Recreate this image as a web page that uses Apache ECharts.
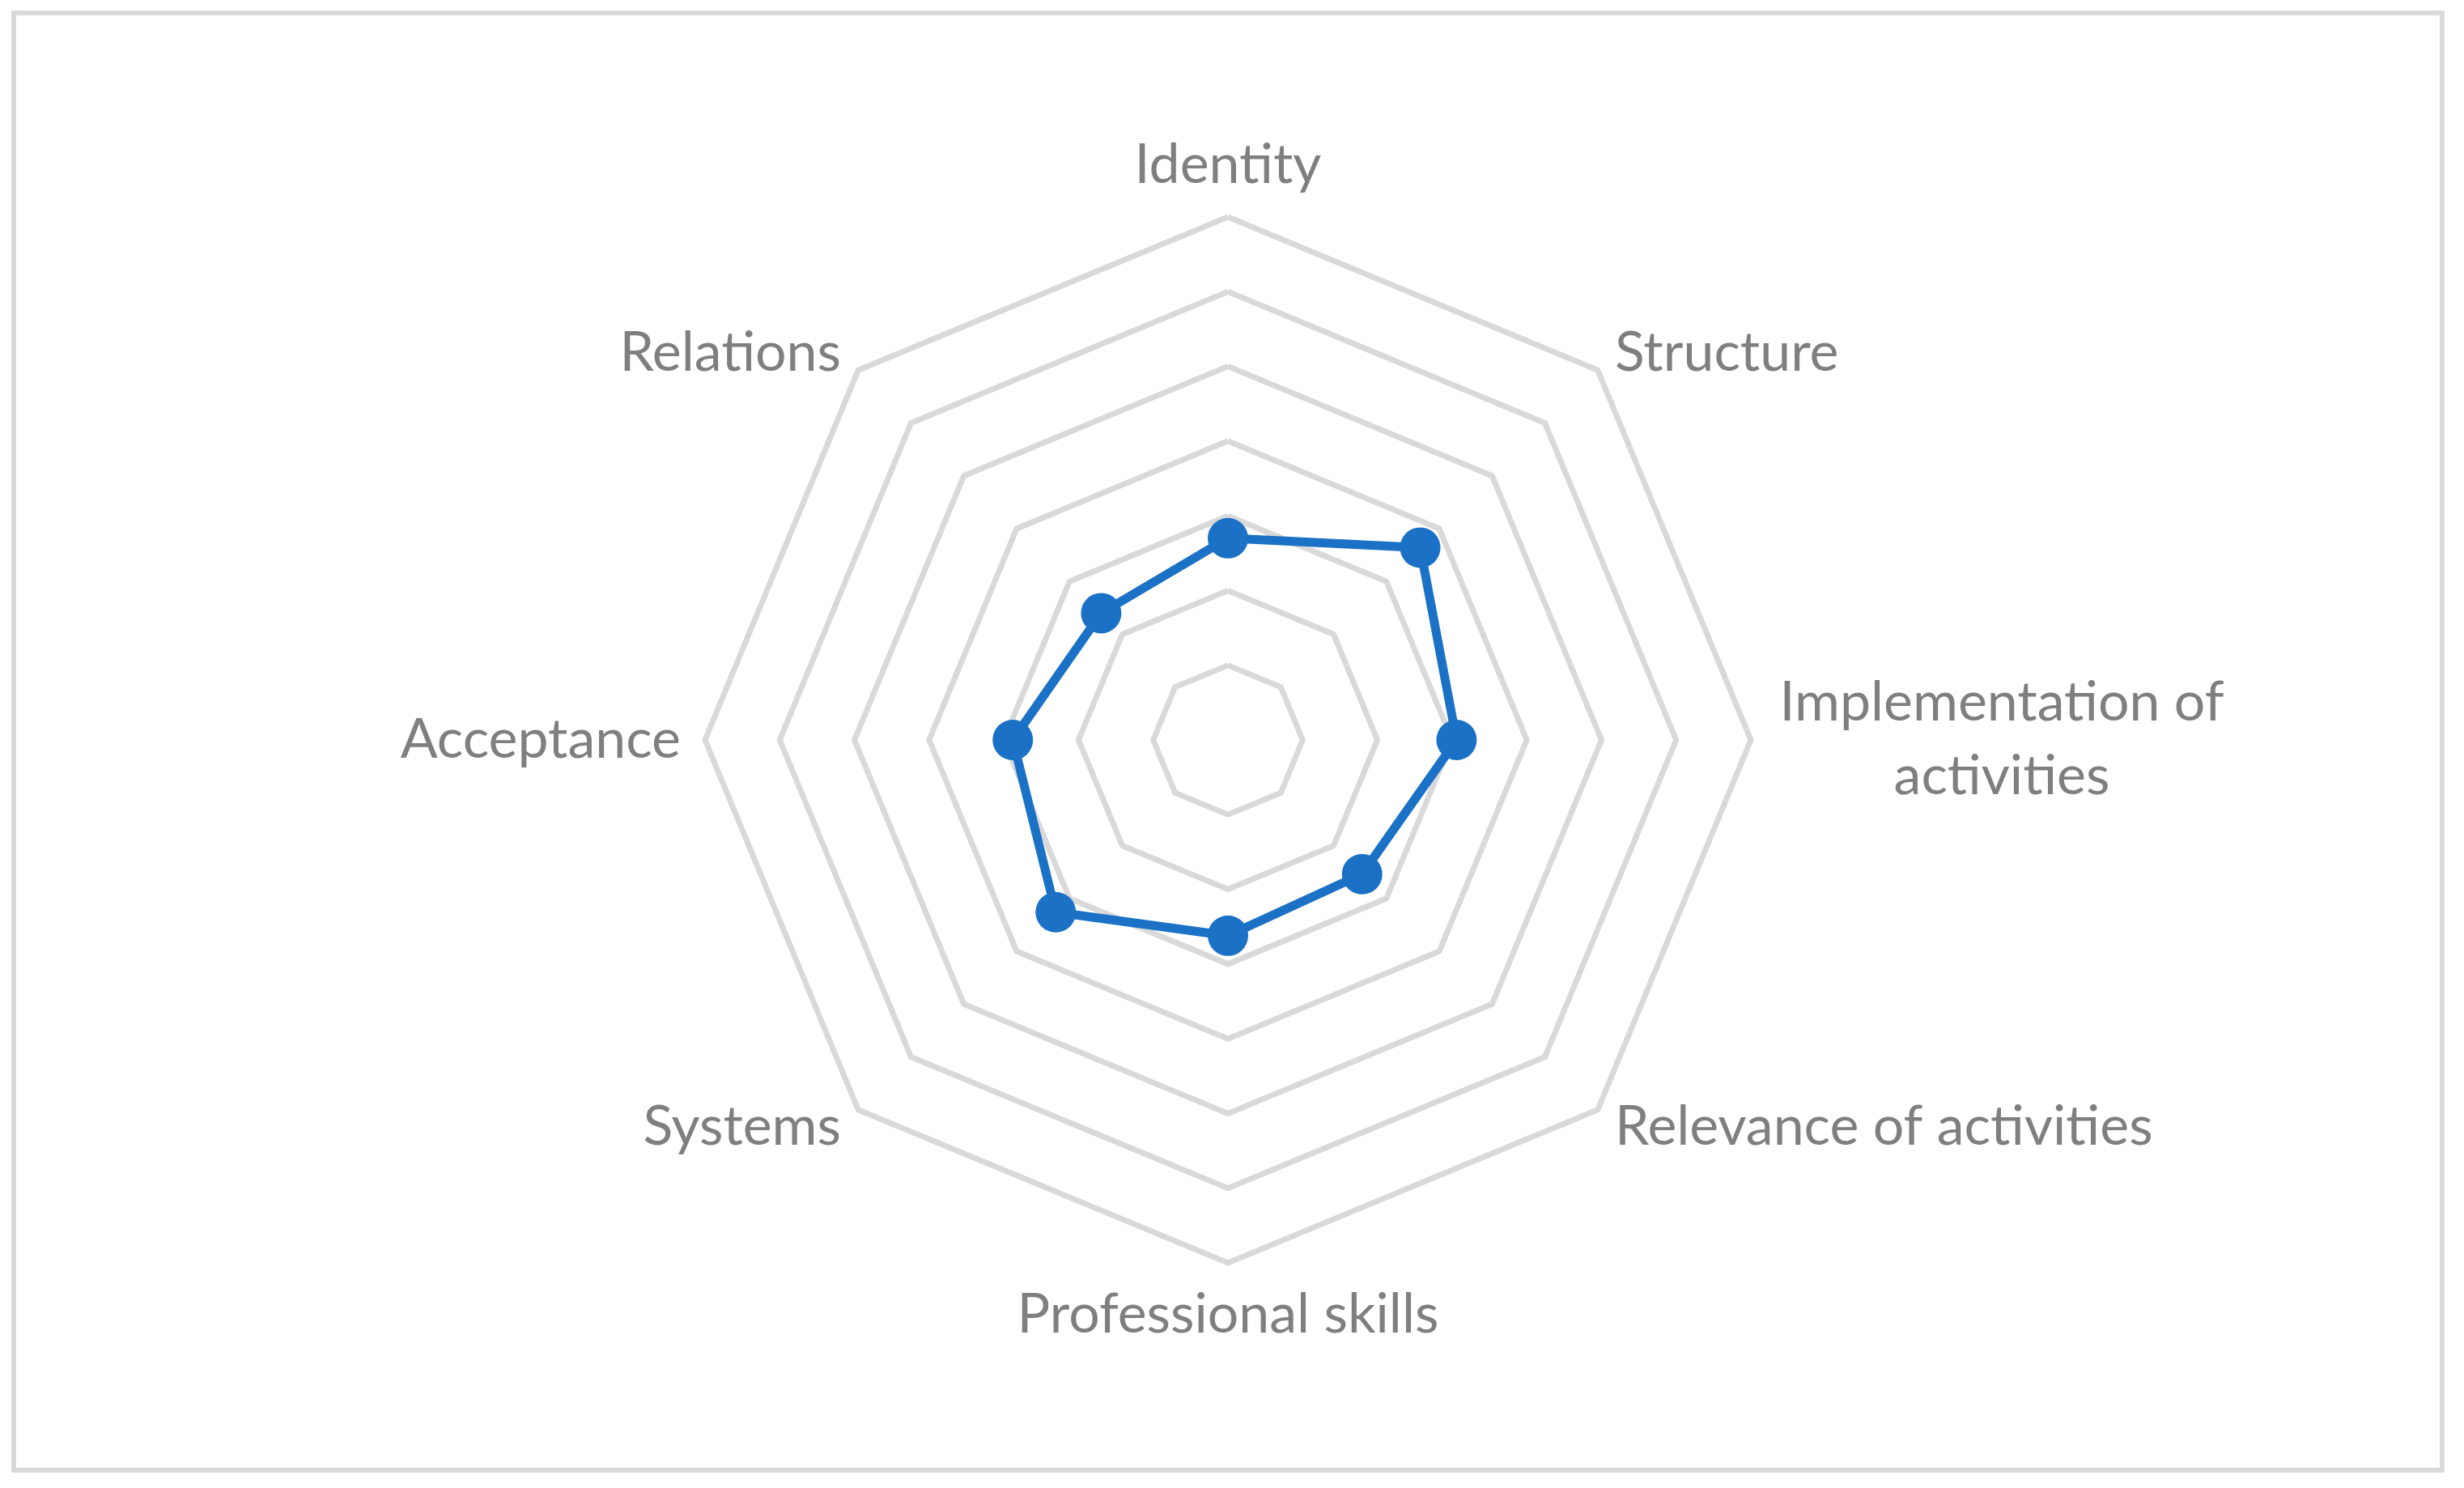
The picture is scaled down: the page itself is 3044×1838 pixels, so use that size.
<!DOCTYPE html>
<html>
<head>
    <meta charset="utf-8"/>
    <title>Radar</title>
    <script src="https://cdn.jsdelivr.net/npm/echarts@6/dist/echarts.min.js"></script>
    <style>
        html, body { margin: 0; padding: 0; background: #fff; }
    </style>
</head>
<body>
    <div id="main" style="width: 3044px; height: 1838px;"></div>
<script type="text/javascript">
    // categories, clockwise from the top (as read in the picture)
    var categories = ['Identity', 'Structure', 'Implementation of\nactivities', 'Relevance of activities',
        'Professional skills', 'Systems', 'Acceptance', 'Relations'];
    var scores = [1.35, 1.82, 1.53, 1.27, 1.31, 1.63, 1.44, 1.2];
    var axisMax = 3.5;
    var rings = 7;

    // echarts lays the indicators out counter-clockwise, so reverse all but the first
    var order = [0];
    for (var i = categories.length - 1; i > 0; i--) order.push(i);

    var textColor = '#7f7f7f';
    var fontFamily = 'Lato, "Open Sans", sans-serif';

    var chart = echarts.init(document.getElementById('main'));
    var option = {
        animation: false,
        backgroundColor: '#fff',
        graphic: [{
            type: 'rect',
            shape: { x: 17, y: 16, width: 3000, height: 1800 },
            style: { fill: 'none', stroke: '#d9d9d9', lineWidth: 6 },
            silent: true
        }],
        radar: {
            center: [1517, 914],
            radius: 646,
            startAngle: 90,
            splitNumber: rings,
            shape: 'polygon',
            nameGap: 30,
            indicator: order.map(function (i) {
                return { name: categories[i], min: 0, max: axisMax };
            }),
            axisName: {
                color: textColor,
                fontSize: 68,
                fontFamily: fontFamily,
                formatter: function (name) {
                    if (name.indexOf('\n') < 0) return name;
                    return name.split('\n').map(function (s) { return '{c|' + s + '}'; }).join('\n');
                },
                rich: {
                    c: { width: 560, align: 'center', fontSize: 68, lineHeight: 91, color: textColor, fontFamily: fontFamily }
                }
            },
            axisLine: { show: false },
            axisTick: { show: false },
            splitArea: { show: false },
            splitLine: { lineStyle: { color: '#d9d9d9', width: 7 } }
        },
        series: [{
            type: 'radar',
            symbol: 'circle',
            symbolSize: 50,
            lineStyle: { color: '#1a71c6', width: 11 },
            itemStyle: { color: '#1a71c6' },
            data: [{ value: order.map(function (i) { return scores[i]; }) }]
        }]
    };
    chart.setOption(option);
</script>
</body>
</html>
